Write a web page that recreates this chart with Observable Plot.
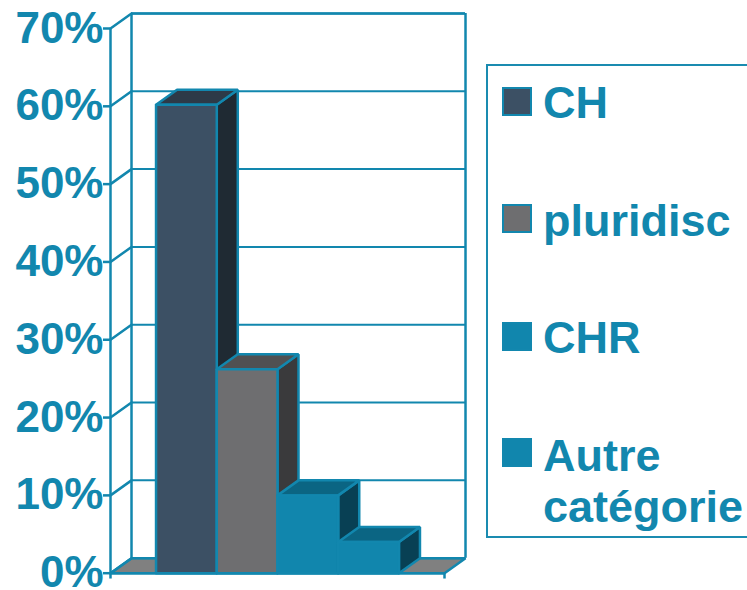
<!DOCTYPE html>
<html lang="fr">
<head>
<meta charset="utf-8">
<title>Répartition par catégorie</title>
<script src="https://cdn.jsdelivr.net/npm/d3@7"></script>
<script src="https://cdn.jsdelivr.net/npm/@observablehq/plot@0.6"></script>
<style>
  html, body { margin: 0; padding: 0; background: #fff; }
  body { position: relative; width: 747px; height: 590px; overflow: hidden; }
  svg { display: block; }
  #legend { position: absolute; left: 486px; top: 64px; width: 320px; height: 470px;
    border: 2px solid #1a8bb0; box-sizing: content-box;
    font: bold 45px "Liberation Sans", Arial, sans-serif; color: #1287ae; }
  #legend .swatch { position: absolute; left: 14px; width: 26px; height: 25px; border: 2.5px solid #1287ae; }
  #legend .label { position: absolute; left: 55px; line-height: 51px; white-space: nowrap; }
</style>
</head>
<body>
<div id="chart"></div>
<div id="legend"></div>
<script>
// Share of each category, in percent
const categories = ["CH", "pluridisc", "CHR", "Autre catégorie"];
const shares = [60.2, 26.2, 10, 4];
const yTicks = [0, 10, 20, 30, 40, 50, 60, 70];

// Face colours of each box: front, top, side
const frontColors = ["#3c5064", "#6e6e70", "#1186ad", "#1186ad"];
const topColors = ["#2d3a47", "#505052", "#0b6583", "#0b6583"];
const sideColors = ["#1f2a33", "#3a3a3c", "#084054", "#084054"];

const teal = "#1287ae";
const floorColor = "#808080";

// Oblique projection: depth expressed in axis units (one bar is one x unit)
const depthX = 0.346;
const depthY = 1.93;
const xMin = -0.75;
const xMax = 4 - xMin;
const yMax = 70;

const bars = categories.map((name, i) => ({name, i, value: shares[i]}));

// A closed, filled outline in data coordinates
const face = (points, fill, strokeWidth = 2.5, stroke = teal) =>
  Plot.line([...points, points[0]], {
    x: d => d[0], y: d => d[1], fill, stroke, strokeWidth,
    curve: "linear", strokeLinejoin: "miter"
  });

const boxFaces = ({i, value}) => [
  face([[i + 1, 0], [i + 1 + depthX, depthY], [i + 1 + depthX, value + depthY], [i + 1, value]], sideColors[i]),
  face([[i, value], [i + depthX, value + depthY], [i + 1 + depthX, value + depthY], [i + 1, value]], topColors[i]),
  face([[i, 0], [i, value], [i + 1, value], [i + 1, 0]], frontColors[i])
];

const chart = Plot.plot({
  width: 747,
  height: 590,
  marginLeft: 110,
  marginRight: 303,
  marginTop: 28,
  marginBottom: 17.3,
  style: {background: "#fff", overflow: "visible"},
  x: {domain: [xMin, xMax], axis: null},
  y: {domain: [0, yMax], axis: null},
  marks: [
    // Floor
    face([[xMin, 0], [xMin + depthX, depthY], [xMax + depthX, depthY], [xMax, 0]], floorColor),
    // Back wall: gridlines and frame
    Plot.ruleY(yTicks, {
      y: d => d + depthY, x1: xMin + depthX, x2: xMax + depthX, stroke: teal, strokeWidth: 2
    }),
    Plot.ruleX([xMin + depthX, xMax + depthX], {y1: depthY, y2: yMax + depthY, stroke: teal, strokeWidth: 2.5}),
    Plot.ruleY([yMax + depthY], {x1: xMin + depthX, x2: xMax + depthX, stroke: teal, strokeWidth: 2.5}),
    // Left wall: tick diagonals and front edge
    ...yTicks.map(t => Plot.line([[xMin, t], [xMin + depthX, t + depthY]], {
      x: d => d[0], y: d => d[1], stroke: teal, strokeWidth: 2.5
    })),
    Plot.ruleX([xMin], {y1: 0, y2: yMax, stroke: teal, strokeWidth: 2.5}),
    // Boxes, painted left to right so each one covers its neighbour's side
    ...bars.flatMap(boxFaces),
    // Front floor edge and its end ticks
    Plot.ruleY([0], {x1: xMin, x2: xMax, stroke: teal, strokeWidth: 2.5}),
    Plot.ruleX([xMin, xMax], {y1: 0, y2: -0.75, stroke: teal, strokeWidth: 2.5}),
    // Percentage axis
    Plot.axisY(yTicks, {
      anchor: "left",
      tickSize: 7,
      tickPadding: 0,
      tickFormat: d => d + "%",
      color: teal,
      fontSize: 44,
      fontWeight: "bold",
      fontFamily: "'Liberation Sans', Arial, sans-serif",
      strokeWidth: 2.5,
      label: null
    })
  ]
});
document.getElementById("chart").append(chart);

// Legend entries: swatch and label, one label wraps on two lines
const legendRows = [
  {swatchTop: 21, labelTop: 11, lines: ["CH"]},
  {swatchTop: 138, labelTop: 129, lines: ["pluridisc"]},
  {swatchTop: 256, labelTop: 246, lines: ["CHR"]},
  {swatchTop: 372, labelTop: 364, lines: ["Autre", "catégorie"]}
];
const legend = document.getElementById("legend");
legendRows.forEach((row, i) => {
  const swatch = document.createElement("div");
  swatch.className = "swatch";
  swatch.style.top = row.swatchTop + "px";
  swatch.style.background = frontColors[i];
  const label = document.createElement("div");
  label.className = "label";
  label.style.top = row.labelTop + "px";
  label.innerHTML = row.lines.join("<br>");
  legend.append(swatch, label);
});
</script>
</body>
</html>
